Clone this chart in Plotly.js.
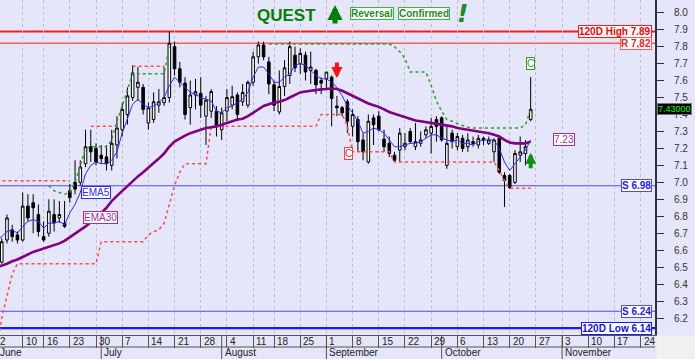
<!DOCTYPE html>
<html><head><meta charset="utf-8">
<script src="https://cdn.plot.ly/plotly-3.0.1.min.js"></script>
<style>html,body{margin:0;padding:0;background:#E6E6FA;}#chart{width:695px;height:359px;}</style>
</head><body><div id="chart"></div>
<script>
// ---- data (trading-day index 0 = 2 June) ----
const open = [6.58,6.53,6.66,6.72,6.69,6.66,6.86,6.88,6.81,6.68, 6.70,6.81,6.79,6.76,6.95,7.00,7.00,7.11,7.21,7.20,
 7.16,7.15,7.10,7.22,7.31,7.40,7.50,7.56,7.56,7.35, 7.37,7.455,7.47,7.50,7.80,7.67,7.585,7.44,7.515,7.525,
 7.39,7.42,7.42,7.31,7.42,7.455,7.515,7.475,7.455,7.59, 7.74,7.81,7.71,7.575,7.415,7.565,7.63,7.75,7.70,7.75,
 7.66,7.66,7.60,7.61,7.62,7.45,7.44,7.475,7.33,7.37, 7.25,7.12,7.38,7.39,7.255,7.23,7.16,7.19,7.21,7.30,
 7.21,7.23,7.28,7.29,7.37,7.38,7.10,7.29,7.21,7.26, 7.21,7.24,7.22,7.26,7.23,7.18,7.26,7.04,7.04,7.00,
 7.16,7.17,7.37];
const high = [6.66,6.67,6.81,6.75,6.71,6.94,6.93,6.93,6.87,6.77, 6.90,6.90,6.89,6.89,6.99,7.13,7.13,7.31,7.31,7.23,
 7.22,7.22,7.31,7.39,7.47,7.56,7.69,7.68,7.58,7.47, 7.53,7.55,7.68,7.89,7.83,7.71,7.62,7.60,7.61,7.62,
 7.51,7.55,7.45,7.44,7.55,7.57,7.53,7.58,7.60,7.77, 7.83,7.83,7.74,7.60,7.66,7.72,7.83,7.80,7.79,7.77,
 7.77,7.67,7.62,7.65,7.63,7.51,7.45,7.49,7.43,7.39, 7.29,7.40,7.40,7.42,7.31,7.27,7.18,7.32,7.29,7.32,
 7.35,7.30,7.33,7.38,7.39,7.39,7.33,7.31,7.29,7.28, 7.29,7.27,7.28,7.27,7.27,7.26,7.27,7.06,7.05,7.19,
 7.27,7.25,7.62];
const low = [6.52,6.52,6.64,6.65,6.64,6.65,6.77,6.70,6.68,6.65, 6.68,6.71,6.76,6.73,6.88,6.93,6.98,7.09,7.12,7.10,
 7.11,7.07,7.07,7.14,7.27,7.34,7.48,7.48,7.40,7.31, 7.35,7.41,7.45,7.47,7.63,7.56,7.37,7.34,7.43,7.38,
 7.22,7.38,7.27,7.25,7.36,7.43,7.36,7.45,7.44,7.57, 7.70,7.72,7.52,7.42,7.40,7.51,7.58,7.65,7.64,7.60,
 7.58,7.52,7.52,7.55,7.33,7.39,7.39,7.29,7.27,7.18, 7.13,7.11,7.22,7.30,7.18,7.15,7.12,7.12,7.19,7.23,
 7.19,7.21,7.26,7.17,7.24,7.24,7.08,7.20,7.19,7.18, 7.18,7.21,7.20,7.22,7.22,7.12,7.05,6.855,6.96,6.99,
 7.12,7.10,7.36];
const close = [6.62,6.65,6.79,6.68,6.66,6.86,6.79,6.85,6.71,6.66, 6.83,6.76,6.81,6.74,6.91,6.96,7.09,7.21,7.18,7.12,
 7.14,7.11,7.23,7.32,7.43,7.51,7.645,7.59,7.43,7.44, 7.475,7.475,7.50,7.82,7.67,7.59,7.40,7.515,7.535,7.455,
 7.485,7.535,7.33,7.41,7.50,7.505,7.40,7.53,7.59,7.74, 7.81,7.74,7.58,7.455,7.565,7.675,7.80,7.675,7.76,7.65,
 7.68,7.575,7.585,7.65,7.495,7.44,7.41,7.36,7.40,7.24, 7.18,7.36,7.34,7.31,7.21,7.17,7.13,7.29,7.23,7.24,
 7.24,7.25,7.31,7.33,7.33,7.25,7.23,7.24,7.27,7.20, 7.25,7.23,7.26,7.25,7.25,7.25,7.06,7.01,6.97,7.17,
 7.18,7.21,7.43];
const ema5 = [6.66,6.68,6.71,6.72,6.70,6.74,6.77,6.78,6.77,6.73, 6.76,6.76,6.77,6.75,6.82,6.87,6.94,7.05,7.10,7.12,
 7.11,7.11,7.13,7.18,7.29,7.38,7.46,7.49,7.46,7.44, 7.45,7.47,7.50,7.57,7.62,7.59,7.56,7.53,7.52,7.50,
 7.49,7.48,7.42,7.41,7.44,7.45,7.47,7.49,7.53,7.62, 7.68,7.68,7.64,7.59,7.59,7.62,7.64,7.69,7.70,7.69,
 7.66,7.63,7.61,7.61,7.59,7.56,7.51,7.45,7.41,7.36, 7.29,7.30,7.32,7.31,7.29,7.25,7.21,7.21,7.22,7.23,
 7.23,7.24,7.26,7.28,7.28,7.26,7.25,7.24,7.25,7.23, 7.23,7.22,7.24,7.25,7.25,7.25,7.20,7.12,7.07,7.11,
 7.15,7.19,7.25];
const ema30 = [6.50,6.51,6.52,6.535,6.545,6.56,6.575,6.59,6.60,6.61, 6.62,6.63,6.64,6.655,6.675,6.695,6.715,6.74,6.765,6.79,
 6.82,6.85,6.89,6.92,6.95,6.98,7.01,7.035,7.06,7.085, 7.11,7.14,7.17,7.21,7.24,7.26,7.275,7.29,7.30,7.31,
 7.32,7.325,7.33,7.34,7.35,7.36,7.37,7.375,7.39,7.41, 7.43,7.45,7.46,7.47,7.475,7.485,7.50,7.515,7.53,7.535,
 7.54,7.545,7.548,7.55,7.553,7.55,7.54,7.525,7.51,7.495, 7.48,7.465,7.455,7.445,7.43,7.415,7.405,7.395,7.385,7.375,
 7.365,7.36,7.355,7.35,7.345,7.34,7.335,7.33,7.32,7.315, 7.31,7.305,7.30,7.295,7.29,7.28,7.27,7.25,7.235,7.23,
 7.23,7.23,7.24];
const N = null;
// trailing stop lines (dotted)
const stopRedUpper = [7.01,7.01,7.01,7.01,7.01,7.01,7.01,7.01,7.01,7.01, 7.01,7.01,7.01,7.01,7.01,N,N,N,7.33,7.33,
 7.33,7.33,7.33,7.33,N,N,7.685,7.685,7.685,7.685, 7.685,7.685,7.685,N,N,N,N,N,N,N,
 N,N,N,N,N,N,N,N,N,N, N,N,N,N,N,N,N,N,N,N, N,N,N,N,N,N,N,N,N,N, N,N,N,N,N,N,N,N,N,N,
 N,N,N,N,N,N,N,N,N,N, N,N,N,N,N,N,N,N,N,N, N,N,N];
const stopRedLower = [6.02,6.20,6.33,6.46,6.52,6.52,6.52,6.52,6.52,6.52, 6.52,6.52,6.52,6.52,6.52,6.52,6.52,6.52,6.52,6.52,
 6.65,6.65,6.65,6.65,6.65,6.65,6.65,6.65,6.65,6.69, 6.71,6.72,6.76,6.87,6.98,7.06,7.11,7.11,7.11,7.11,
 7.11,7.33,7.33,7.33,7.33,7.33,7.33,7.33,7.33,7.33, 7.33,7.33,7.33,7.33,7.33,7.33,7.33,7.33,7.33,7.33,
 7.33,7.33,7.40,7.40,7.40,7.40,7.40,7.33,7.18,7.18, 7.18,7.18,7.18,7.18,7.18,7.18,7.12,7.12,7.12,7.12,
 7.12,7.12,7.12,7.12,7.12,7.12,7.12,7.12,7.12,7.12, 7.12,7.12,7.12,7.12,7.12,7.12,7.07,7.01,6.965,6.965,
 6.965,6.965,6.965];
const stopGreen = [N,N,N,N,N,N,N,N,N,N, 6.98,6.95,6.94,6.93,6.94,7.00,7.10,7.20,7.21,7.21,
 7.21,7.21,7.25,7.36,7.45,7.55,7.64,7.64,7.64,7.64, 7.64,7.64,7.64,7.80,N,N,N,N,N,N,
 N,N,N,N,N,N,N,N,N,N, N,N,7.815,7.815,7.815,7.815,7.815,7.815,7.815,7.815,
 7.815,7.815,7.815,7.815,7.815,7.815,7.815,7.815,7.815,7.815, 7.815,7.815,7.815,7.815,7.815,7.815,7.80,7.77,7.73,7.65,
 7.65,7.65,7.65,7.57,7.48,7.42,7.37,7.36,7.345,7.335, 7.325,7.32,7.32,7.32,7.32,7.32,7.32,7.32,7.32,7.32,
 7.32,7.34,7.43];

// axis labels
const weekTickIdx = [0,5,9,14,19,24,29,34,39,44,49,53,58,63,68,73,78,83,88,93,98,103,108,113,118,123];
const weekTickText = ["2","10","16","23","30","7","14","21","28","4","11","18","25","1","8","15","22","29","6","13","20","27","3","10","17","24"];
const monthStartIdx = [0,20,43,63,85,108];
const monthNames = ["June","July","August","September","October","November"];
const yTicks = [6.2,6.3,6.4,6.5,6.6,6.7,6.8,6.9,7.0,7.1,7.2,7.3,7.4,7.5,7.6,7.7,7.8,7.9,8.0];

// support / resistance levels
const levelValues = [7.89, 7.82, 6.98, 6.24, 6.14];
const levelLabels = ["120D High 7.89", "R 7,82", "S 6.98", "S 6.24", "120D Low 6.14"];
const ema30Label = "7.23";

// ---- build ----
const day = close.map((_, k) => k);
const xr = [0.668, 125.74];
const toPaper = i => (i - xr[0]) / (xr[1] - xr[0]);
const lastIdx = close.length - 1;

const traces = [
  {type:'candlestick', x:day, open:open, high:high, low:low, close:close,
   increasing:{line:{color:'#000000', width:1}, fillcolor:'#FFFFFF'},
   decreasing:{line:{color:'#000000', width:1}, fillcolor:'#000000'},
   whiskerwidth:0, hoverinfo:'skip'},
  {type:'scatter', mode:'lines', x:day, y:stopRedUpper, line:{color:'#FF4A4A', width:1.5, dash:'dot'}, connectgaps:false, hoverinfo:'skip'},
  {type:'scatter', mode:'lines', x:day, y:stopRedLower, line:{color:'#FF4A4A', width:1.5, dash:'dot'}, connectgaps:false, hoverinfo:'skip'},
  {type:'scatter', mode:'lines', x:day, y:stopGreen, line:{color:'#2EA02E', width:1.5, dash:'dot'}, connectgaps:false, hoverinfo:'skip'},
  {type:'scatter', mode:'lines', x:day, y:ema30, line:{color:'#800080', width:2.6}, hoverinfo:'skip'},
  {type:'scatter', mode:'lines', x:day, y:ema5, line:{color:'#2B2BFF', width:1}, hoverinfo:'skip'}
];

const levelStyle = [
  {color:'#FF1A1A', width:2, text:'#FF0000'},
  {color:'#FF5A5A', width:1.5, text:'#FF2020'},
  {color:'#4B4BFF', width:1.2, text:'#2020FF'},
  {color:'#4B4BFF', width:1.2, text:'#2020FF'},
  {color:'#1A1AFF', width:2.2, text:'#1010FF'}
];

const shapes = [];
const annotations = [];
levelValues.forEach((v, k) => {
  shapes.push({type:'line', xref:'paper', x0:0, x1:1, yref:'y', y0:v, y1:v,
    line:{color:levelStyle[k].color, width:levelStyle[k].width}, layer:'below'});
  annotations.push({xref:'paper', x:0.9955, xanchor:'right', yref:'y', y:v, yanchor:'middle',
    text:levelLabels[k], showarrow:false, font:{family:'Liberation Sans, Arial', size:10, color:levelStyle[k].text, weight:'bold'},
    bgcolor:'#FFFFFF', bordercolor:levelStyle[k].color, borderwidth:1, borderpad:0});
});

// bottom axis strip
const rowY = -12/335, botY = -24/335;
shapes.push({type:'line', xref:'paper', x0:0, x1:1, yref:'paper', y0:rowY, y1:rowY, line:{color:'#555', width:1}});
monthStartIdx.forEach(i => {
  shapes.push({type:'line', xref:'paper', x0:toPaper(i), x1:toPaper(i), yref:'paper', y0:0, y1:botY, line:{color:'#555', width:1}});
});
shapes.push({type:'rect', xref:'paper', x0:1.002, x1:1.07, yref:'paper', y0:-0.002, y1:-0.08, fillcolor:'#F0F0F0', line:{width:0}});

weekTickIdx.forEach((i, k) => {
  annotations.push({xref:'paper', x:toPaper(i), xanchor:'left', xshift:1, yref:'paper', y:-6/335, yanchor:'middle',
    text:weekTickText[k], showarrow:false, font:{size:10, color:'#222'}});
});
monthStartIdx.forEach((i, k) => {
  annotations.push({xref:'paper', x:toPaper(i), xanchor:'left', xshift:1, yref:'paper', y:-18/335, yanchor:'middle',
    text:monthNames[k], showarrow:false, font:{size:10, color:'#222'}});
});

// indicator labels
annotations.push({xref:'x', x:16.2, xanchor:'left', yref:'y', y:6.94, text:'EMA5', showarrow:false,
  font:{size:10, color:'#2B2BFF'}, bgcolor:'#FFFFFF', bordercolor:'#2B2BFF', borderwidth:1, borderpad:0});
annotations.push({xref:'x', x:16.5, xanchor:'left', yref:'y', y:6.79, text:'EMA30', showarrow:false,
  font:{size:10, color:'#A030A0'}, bgcolor:'#FFFFFF', bordercolor:'#A030A0', borderwidth:1, borderpad:0});
annotations.push({xref:'x', x:lastIdx+6.3, xanchor:'center', yref:'y', y:ema30[lastIdx]+0.01, text:ema30Label, showarrow:false,
  font:{size:10, color:'#A030A0'}, bgcolor:'#FFFFFF', bordercolor:'#A030A0', borderwidth:1, borderpad:0});
annotations.push({xref:'paper', x:1.003, xanchor:'left', yref:'y', y:close[lastIdx], text:close[lastIdx].toFixed(5), showarrow:false,
  font:{size:9, color:'#00FF00', family:'Liberation Sans, Arial'}, bgcolor:'#000000', bordercolor:'#777', borderwidth:1, borderpad:0});
annotations.push({xref:'x', x:67.2, yref:'y', y:7.17, text:'C', showarrow:false,
  font:{size:10, color:'#FF2020'}, bgcolor:'#FFFFFF', bordercolor:'#FF4040', borderwidth:1, borderpad:0});
annotations.push({xref:'x', x:lastIdx, yref:'y', y:7.70, text:'C', showarrow:false,
  font:{size:10, color:'#2EA02E'}, bgcolor:'#FFFFFF', bordercolor:'#2EA02E', borderwidth:1, borderpad:0});
// arrows
annotations.push({xref:'x', x:65, yref:'y', y:7.615, ax:0, ay:-17, text:'', showarrow:true,
  arrowhead:2, arrowsize:0.55, arrowwidth:4, arrowcolor:'#FF1010', standoff:0});
annotations.push({xref:'x', x:lastIdx, yref:'y', y:7.175, ax:0, ay:17, text:'', showarrow:true,
  arrowhead:2, arrowsize:0.55, arrowwidth:4, arrowcolor:'#109010', standoff:0});
// title block
annotations.push({xref:'paper', x:286/655, xanchor:'center', yref:'paper', y:1-15/335, yanchor:'middle', text:'<b>QUEST</b>', showarrow:false,
  font:{size:17, color:'#008000', family:'Liberation Sans, Arial'}});
annotations.push({xref:'paper', x:335/655, yref:'paper', y:1-5/335, ax:0, ay:20, text:'', showarrow:true,
  arrowhead:2, arrowsize:0.6, arrowwidth:5, arrowcolor:'#008000', standoff:0});
annotations.push({xref:'paper', x:350/655, xanchor:'left', yref:'paper', y:1-14/335, yanchor:'middle', text:'<b>Reversal</b>', showarrow:false,
  font:{size:10, color:'#1E8C1E'}, bgcolor:'#FFFFFF', bordercolor:'#3CB43C', borderwidth:1, borderpad:0});
annotations.push({xref:'paper', x:398/655, xanchor:'left', yref:'paper', y:1-14/335, yanchor:'middle', text:'<b>Confirmed</b>', showarrow:false,
  font:{size:10, color:'#1E8C1E'}, bgcolor:'#FFFFFF', bordercolor:'#3CB43C', borderwidth:1, borderpad:0});
annotations.push({xref:'paper', x:462/655, xanchor:'center', yref:'paper', y:1-14/335, yanchor:'middle', text:'<b><i>!</i></b>', showarrow:false,
  font:{size:25, color:'#1E8C1E', family:'DejaVu Sans, Liberation Sans'}});

const layout = {
  width:695, height:359,
  margin:{l:0, r:40, t:0, b:24, pad:0},
  paper_bgcolor:'#E6E6FA', plot_bgcolor:'#E6E6FA',
  showlegend:false,
  font:{family:'Liberation Sans, Arial, sans-serif', size:10, color:'#222'},
  xaxis:{range:xr, tickvals:weekTickIdx, showticklabels:false, ticks:'outside', ticklen:12, tickcolor:'#555', tickwidth:1,
    showgrid:true, gridcolor:'#BDBDCB', griddash:'dot', gridwidth:1, showline:true, linecolor:'#555', linewidth:1,
    zeroline:false, rangeslider:{visible:false}, fixedrange:true},
  yaxis:{side:'right', range:[6.10, 8.075], tickvals:yTicks, ticktext:yTicks.map(v => v.toFixed(1)),
    ticks:'outside', ticklen:7, tickcolor:'#333', tickwidth:1, showgrid:false, showline:true, linecolor:'#333', linewidth:2,
    zeroline:false, tickfont:{size:10, color:'#333'}, ticklabelstandoff:8, fixedrange:true},
  shapes:shapes,
  annotations:annotations
};

Plotly.newPlot('chart', traces, layout, {staticPlot:true, displayModeBar:false});
</script>
</body></html>
